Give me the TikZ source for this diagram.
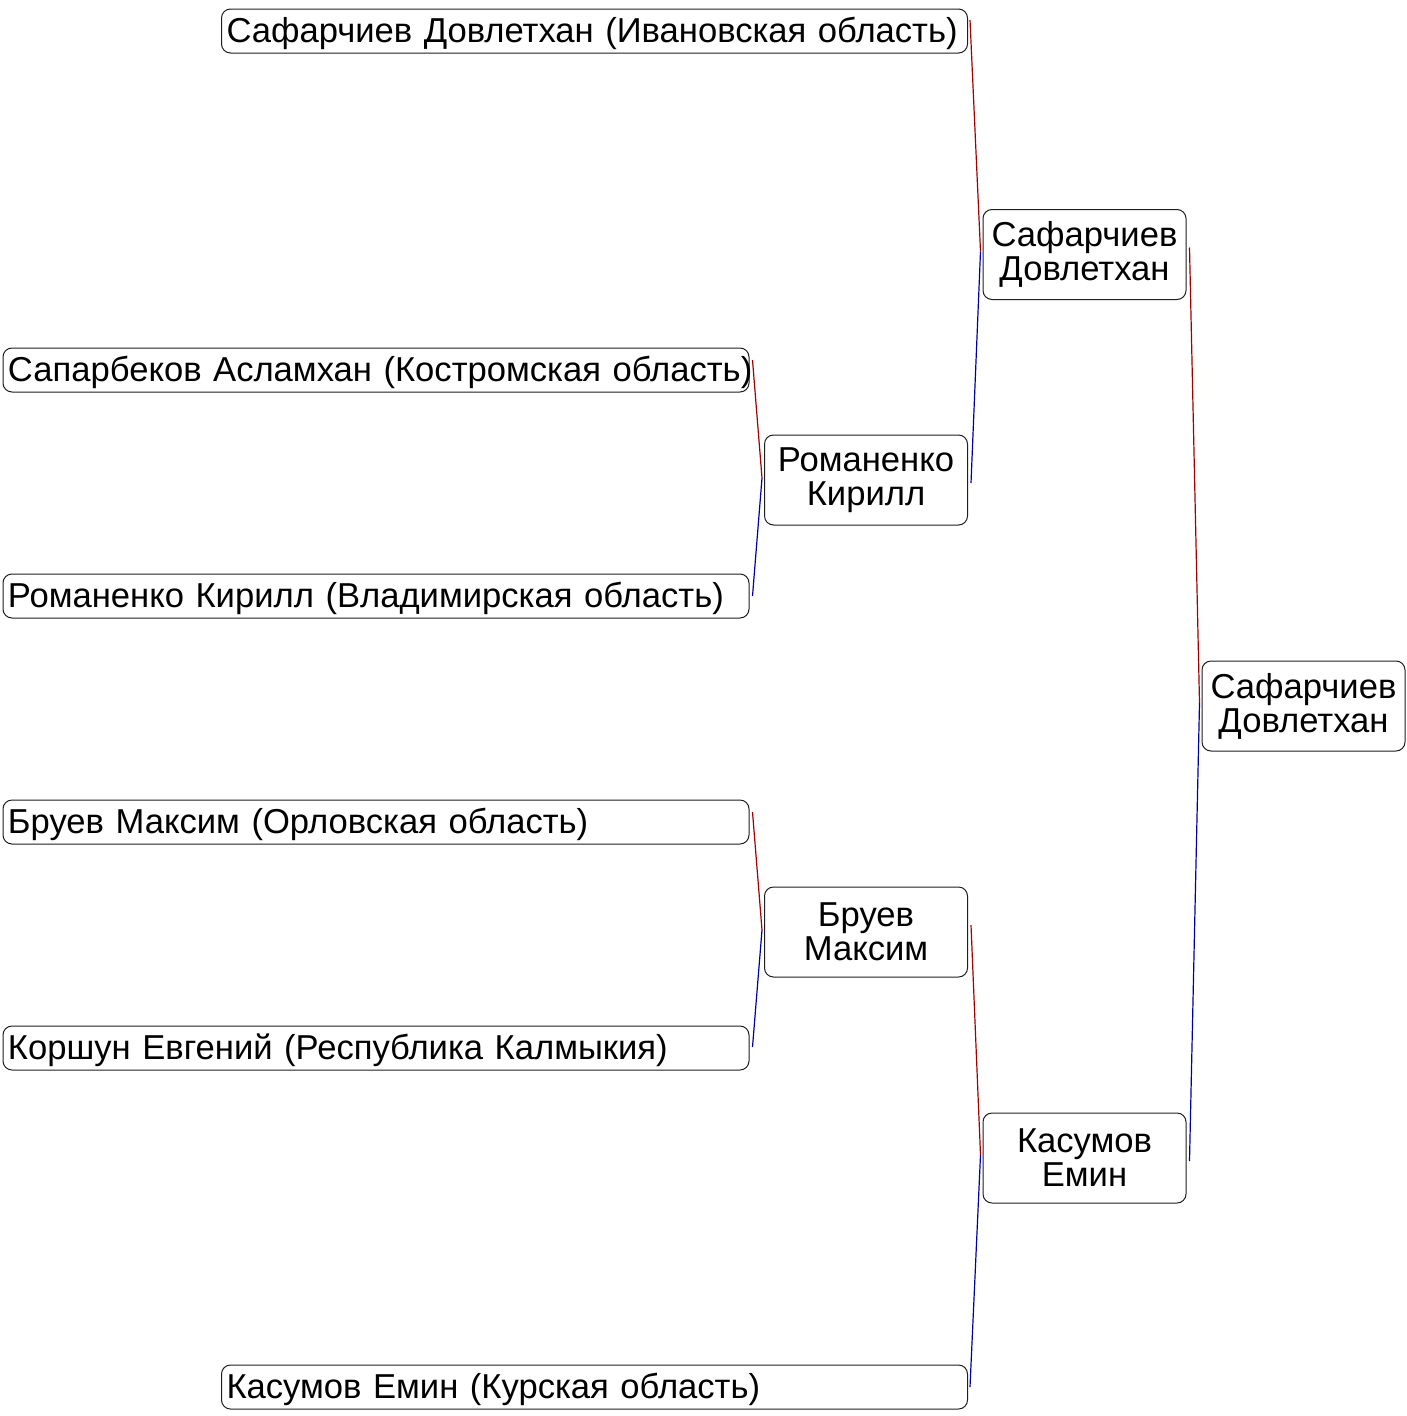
\documentclass[tikz,border=0pt]{standalone}
\usepackage{fontspec}
\setmainfont{Liberation Sans}
\definecolor{winred}{RGB}{160,0,0}
\definecolor{winblue}{RGB}{0,0,160}
\definecolor{boxline}{RGB}{30,30,30}
\begin{document}
\begin{tikzpicture}[x=1pt,y=-1pt,
  base/.style={draw=boxline, line width=1pt, rounded corners=9pt, fill=white,
    font=\fontsize{34.6}{34}\selectfont, inner ysep=0pt},
  entry/.style={base, text width=736pt, inner xsep=5pt, align=left, minimum height=44pt,
    text height=25pt, text depth=3pt},
  winner/.style={base, text width=193pt, inner xsep=5pt, align=center, minimum height=90pt},
  redline/.style={winred, line width=1.2pt},
  blueline/.style={winblue, line width=1.2pt}]
\useasboundingbox (0,0) rectangle (1406,1416);
\node[entry] (a1) at (594.5,31) {\mbox{Сафарчиев Довлетхан (Ивановская область)}};
\node[entry] (a2) at (376,370) {\mbox{Сапарбеков Асламхан (Костромская область)}};
\node[entry] (a3) at (376,596) {\mbox{Романенко Кирилл (Владимирская область)}};
\node[entry] (a4) at (376,822) {\mbox{Бруев Максим (Орловская область)}};
\node[entry] (a5) at (376,1048) {\mbox{Коршун Евгений (Республика Калмыкия)}};
\node[entry] (a6) at (594.5,1387) {\mbox{Касумов Емин (Курская область)}};
\node[winner] (b1) at (866,480) {Романенко\\Кирилл};
\node[winner] (b2) at (866,932) {Бруев\\Максим};
\node[winner] (c1) at (1084.5,254.5) {Сафарчиев\\Довлетхан};
\node[winner] (c2) at (1084.5,1158) {Касумов\\Емин};
\node[winner] (d1) at (1303.5,706) {Сафарчиев\\Довлетхан};
% meeting points
\coordinate (mb1) at ([shift={(-2,-2)}]b1.west);
\coordinate (mb2) at ([shift={(-2,-2)}]b2.west);
\coordinate (mc1) at ([shift={(-2,-3)}]c1.west);
\coordinate (mc2) at ([shift={(-2,-3)}]c2.west);
\coordinate (md1) at ([shift={(-2,-3)}]d1.west);
\draw[redline] ([shift={(2,-11)}]a1.east) -- (mc1);
\draw[blueline] ([shift={(3,3)}]b1.east) -- (mc1);
\draw[redline] ([shift={(3,-10)}]a2.east) -- (mb1);
\draw[blueline] ([shift={(3,0)}]a3.east) -- (mb1);
\draw[redline] ([shift={(3,-10)}]a4.east) -- (mb2);
\draw[blueline] ([shift={(3,-1)}]a5.east) -- (mb2);
\draw[redline] ([shift={(3,-7)}]b2.east) -- (mc2);
\draw[blueline] ([shift={(2,0)}]a6.east) -- (mc2);
\draw[redline] ([shift={(3,-7)}]c1.east) -- (md1);
\draw[blueline] ([shift={(3,3)}]c2.east) -- (md1);
\end{tikzpicture}
\end{document}
